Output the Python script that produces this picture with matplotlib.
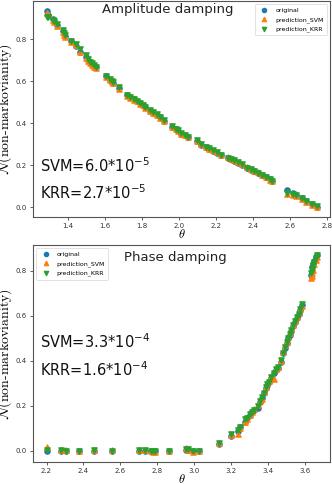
import matplotlib
matplotlib.use('Agg')
import matplotlib.pyplot as plt

# Amplitude damping
theta_ad = [1.282, 1.290, 1.315, 1.324, 1.340, 1.369, 1.378, 1.384, 1.415, 1.442,
            1.465, 1.496, 1.505, 1.515, 1.527, 1.540, 1.550, 1.605, 1.624, 1.636,
            1.645, 1.676, 1.720, 1.736, 1.755, 1.773, 1.790, 1.805, 1.818, 1.845,
            1.860, 1.882, 1.896, 1.918, 1.964, 1.982, 1.996, 2.013, 2.031, 2.049,
            2.096, 2.118, 2.145, 2.164, 2.185, 2.205, 2.227, 2.264, 2.282, 2.300,
            2.322, 2.340, 2.367, 2.391, 2.409, 2.427, 2.450, 2.473, 2.491, 2.504,
            2.587, 2.618, 2.636, 2.664, 2.690, 2.718, 2.745]
orig_ad = [.934, .915, .896, .886, .867, .839, .824, .815, .790, .767,
           .740, .717, .700, .690, .680, .671, .665, .622, .606, .598,
           .592, .566, .532, .522, .516, .506, .495, .487, .475, .459,
           .449, .440, .427, .411, .380, .372, .361, .348, .342, .332,
           .313, .297, .285, .277, .269, .258, .247, .234, .228, .222,
           .212, .203, .187, .179, .171, .163, .152, .142, .133, .123,
           .082, .068, .060, .044, .028, .013, .000]
svm_ad = [.925, .918, .890, .880, .862, .832, .818, .812, .788, .770,
          .737, .712, .695, .684, .676, .668, .660, .620, .603, .594,
          .590, .562, .530, .520, .512, .503, .492, .484, .472, .458,
          .447, .437, .425, .409, .382, .370, .362, .350, .343, .334,
          .316, .300, .286, .279, .271, .261, .250, .237, .231, .226,
          .215, .205, .190, .181, .173, .165, .153, .143, .131, .125,
          .062, .058, .052, .040, .025, .010, .003]
krr_ad = [.903, .905, .893, .888, .870, .842, .828, .818, .792, .778,
          .755, .722, .705, .693, .684, .675, .668, .624, .608, .600,
          .595, .570, .534, .524, .517, .507, .496, .488, .477, .462,
          .452, .442, .429, .413, .384, .374, .365, .352, .345, .335,
          .318, .302, .287, .280, .271, .261, .250, .236, .229, .223,
          .214, .205, .188, .180, .172, .164, .152, .142, .132, .124,
          .068, .064, .058, .045, .030, .014, .004]

# Phase damping
theta_pd = [2.200, 2.276, 2.304, 2.376, 2.460, 2.555, 2.700, 2.731, 2.764, 2.778,
            2.790, 2.864, 2.955, 2.964, 2.996, 3.027, 3.133, 3.200, 3.240, 3.247,
            3.278, 3.287, 3.300, 3.313, 3.327, 3.345, 3.355, 3.367, 3.380, 3.390,
            3.396, 3.405, 3.418, 3.430, 3.445, 3.455, 3.469, 3.480, 3.494, 3.503,
            3.509, 3.518, 3.525, 3.536, 3.549, 3.558, 3.567, 3.576, 3.585, 3.633,
            3.637, 3.641, 3.645, 3.650, 3.658, 3.663]
orig_pd = [.000, .002, .000, -.002, .000, .000, .002, .002, .001, .000,
           -.002, .000, .005, .003, -.001, -.001, .031, .068, .089, .107,
           .130, .145, .160, .172, .182, .193, .219, .234, .256, .279,
           .293, .308, .326, .345, .360, .370, .397, .434, .459, .479,
           .500, .516, .533, .553, .572, .590, .607, .627, .649, .780,
           .800, .815, .830, .845, .860, .868]
svm_pd = [.018, .004, .006, .000, .006, .004, .003, .004, .000, -.003,
          -.005, .002, .012, .006, -.003, .000, .034, .072, .074, .104,
          .128, .142, .162, .175, .188, .205, .222, .232, .262, .285,
          .302, .310, .335, .318, .365, .375, .400, .438, .470, .485,
          .505, .522, .540, .560, .578, .596, .612, .632, .645, .770,
          .775, .790, .805, .830, .850, .860]
krr_pd = [.005, .003, .002, -.001, .003, .002, .004, .003, .002, .002,
          .000, .001, .010, .008, .000, .000, .037, .077, .092, .106,
          .140, .148, .165, .175, .184, .198, .222, .240, .258, .282,
          .297, .306, .330, .348, .362, .372, .405, .436, .462, .482,
          .502, .520, .538, .560, .575, .594, .610, .630, .652, .790,
          .805, .810, .825, .840, .855, .870]

panels = [
    ('Amplitude damping', theta_ad, orig_ad, svm_ad, krr_ad,
     ['SVM=6.0*10$^{-5}$', 'KRR=2.7*10$^{-5}$']),
    ('Phase damping', theta_pd, orig_pd, svm_pd, krr_pd,
     ['SVM=3.3*10$^{-4}$', 'KRR=1.6*10$^{-4}$']),
]

# layout per panel: axes rect, title pos, score text y, legend loc
layout = [
    ([0.0994, 0.5517, 0.8946, 0.446], (0.455, 0.96), (0.24, 0.115), 'upper right'),
    ([0.0994, 0.0455, 0.8946, 0.448], (0.478, 0.945), (0.553, 0.424), 'upper left'),
]


def draw_panel(fig, panel, lay):
    title, x, orig, svm, krr, scores = panel
    rect, title_pos, score_y, loc = lay
    ax = fig.add_axes(rect)
    ax.scatter(x, orig, s=14, marker='o', color='#1f77b4', label='original')
    ax.scatter(x, svm, s=14, marker='^', color='#ff7f0e', label='prediction_SVM')
    ax.scatter(x, krr, s=14, marker='v', color='#2ca02c', label='prediction_KRR')

    ax.text(title_pos[0], title_pos[1], title, transform=ax.transAxes,
            ha='center', va='center', fontsize=9.5, color='#222222')
    for txt, y in zip(scores, score_y):
        ax.text(0.024, y, txt, transform=ax.transAxes, ha='left', va='center',
                fontsize=10.5, color='#111111')

    ax.set_xlabel(r'$\theta$', fontsize=9, math_fontfamily='cm', labelpad=-1)
    ax.set_ylabel(r'$\mathcal{N}$(non-markovianity)', fontsize=10,
                  family='cmr10', math_fontfamily='cm', labelpad=1)
    ax.tick_params(labelsize=5, length=2.5, width=0.6, pad=2,
                   colors='#444444', labelcolor='#333333')
    for sp in ax.spines.values():
        sp.set_color('#555555')
        sp.set_linewidth(0.8)
    leg = ax.legend(loc=loc, fontsize=4.5, markerscale=0.8, handletextpad=0.8,
                    borderpad=0.5, labelspacing=0.6, framealpha=0.8)
    leg.get_frame().set_linewidth(0.5)
    return ax


def main():
    fig = plt.figure(figsize=(3.32, 4.84), dpi=100)
    for panel, lay in zip(panels, layout):
        draw_panel(fig, panel, lay)
    fig.savefig('out.png', dpi=100)


if __name__ == '__main__':
    main()
